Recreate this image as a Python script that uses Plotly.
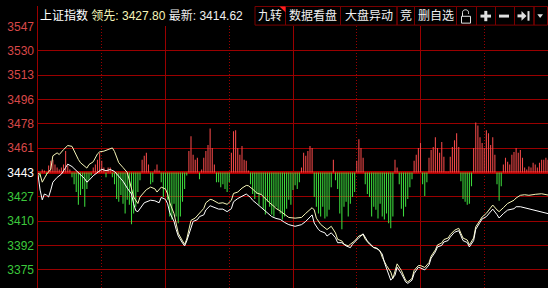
import plotly.graph_objects as go

# ---------------- data ----------------
PREV_CLOSE = 3443.8
TICK_STEP = 17.27
TICK_LABELS = ["3375", "3392", "3410", "3427", "3443", "3461", "3478", "3496", "3513", "3530", "3547"]
TICK_STEPS = [-4, -3, -2, -1, 0, 1, 2, 3, 4, 5, 6]

LEAD_LAST = "3427.80"
PRICE_LAST = "3414.62"

LEAD_T = [0, 1, 2, 4, 6, 7, 9, 10, 12, 14, 16, 17, 19, 20, 23, 24, 26, 28, 29, 31,
          33, 35, 36, 38, 40, 42, 43, 45, 47, 48, 51, 53, 55, 56, 58, 60, 61, 62, 64, 65,
          66, 68, 69, 70, 71, 72, 74, 76, 78, 79, 81, 82, 85, 87, 89, 91, 92, 94, 96, 98,
          99, 101, 103, 105, 107, 109, 111, 112, 114, 116, 118, 121, 124, 126, 129, 130, 131, 133, 135, 136,
          138, 140, 141, 143, 144, 146, 147, 149, 151, 153, 154, 156, 158, 159, 161, 162, 164, 166, 167, 169,
          171, 173, 174, 176, 177, 179, 180, 182, 184, 185, 187, 188, 190, 191, 193, 194, 196, 198, 199, 200,
          202, 203, 205, 206, 208, 209, 211, 213, 214, 216, 217, 219, 221, 224, 225, 227, 229, 231, 232, 234,
          237, 240]
LEAD_V = [3443.1, 3442.4, 3436.9, 3442.4, 3446.1, 3455.6, 3457.7, 3456.5, 3460.0, 3462.9,
          3462.3, 3458.9, 3453.0, 3450.7, 3446.9, 3449.4, 3451.4, 3457.0, 3458.4, 3458.9,
          3460.1, 3461.2, 3458.7, 3450.7, 3447.3, 3443.8, 3438.2, 3426.4, 3421.8, 3426.4,
          3431.6, 3433.4, 3432.2, 3429.9, 3433.4, 3432.0, 3428.5, 3422.3, 3414.6, 3407.7,
          3400.7, 3395.2, 3392.8, 3396.6, 3404.2, 3409.8, 3411.5, 3414.6, 3418.3, 3422.3,
          3424.7, 3424.4, 3421.9, 3422.3, 3421.2, 3424.0, 3428.9, 3429.9, 3432.7, 3434.6,
          3434.4, 3432.0, 3429.2, 3428.2, 3425.1, 3422.3, 3419.8, 3418.3, 3416.4, 3414.0,
          3411.9, 3411.4, 3411.9, 3414.8, 3418.8, 3417.2, 3411.4, 3407.0, 3404.4, 3403.3,
          3405.6, 3400.9, 3396.4, 3395.2, 3392.9, 3391.7, 3392.9, 3395.2, 3398.7, 3399.8,
          3396.4, 3392.9, 3390.5, 3390.5, 3388.2, 3383.6, 3377.8, 3373.2, 3368.6, 3379.0,
          3374.3, 3367.4, 3366.2, 3368.6, 3374.3, 3377.8, 3377.8, 3376.4, 3379.9, 3384.4,
          3388.9, 3392.4, 3393.8, 3396.2, 3397.3, 3399.7, 3402.8, 3404.2, 3400.7, 3397.3,
          3395.9, 3392.4, 3397.3, 3405.3, 3409.8, 3412.2, 3414.8, 3418.3, 3420.7, 3417.2,
          3416.0, 3418.8, 3421.8, 3424.1, 3425.7, 3427.6, 3428.0, 3427.6, 3428.0, 3428.3,
          3428.7, 3427.80]

PRICE_T = [0, 1, 2, 3, 4, 5, 6, 7, 9, 11, 13, 14, 16, 17, 20, 22, 23, 24, 26, 29,
           30, 32, 34, 36, 38, 40, 42, 44, 45, 46, 47, 48, 50, 53, 55, 57, 58, 60, 61, 62,
           64, 65, 66, 68, 69, 70, 72, 73, 75, 76, 78, 79, 81, 82, 85, 87, 89, 91, 92, 94,
           97, 98, 100, 101, 103, 104, 106, 108, 110, 112, 114, 116, 118, 121, 124, 126, 129, 130, 132, 133,
           135, 136, 138, 140, 141, 143, 145, 147, 148, 151, 153, 155, 157, 158, 160, 162, 163, 165, 166, 168,
           169, 171, 173, 174, 176, 177, 179, 180, 182, 184, 185, 187, 188, 190, 191, 193, 194, 196, 198, 199,
           200, 202, 203, 205, 206, 208, 209, 211, 213, 214, 216, 217, 219, 221, 224, 225, 227, 229, 232, 235,
           240]
PRICE_V = [3442.4, 3431.3, 3424.4, 3428.5, 3427.8, 3426.4, 3431.3, 3436.9, 3440.3, 3442.6,
           3447.3, 3449.7, 3448.0, 3446.6, 3442.8, 3439.3, 3436.9, 3438.2, 3441.5, 3445.0,
           3446.1, 3445.0, 3445.9, 3444.5, 3441.0, 3437.6, 3432.7, 3428.5, 3421.6, 3416.7,
           3416.0, 3418.1, 3422.3, 3424.1, 3423.7, 3422.3, 3426.1, 3424.7, 3421.6, 3415.3,
           3409.1, 3403.5, 3398.7, 3393.8, 3391.7, 3395.2, 3405.6, 3409.1, 3410.3, 3412.5,
           3413.7, 3417.2, 3420.2, 3419.5, 3417.8, 3417.8, 3416.0, 3418.1, 3423.0, 3425.3,
           3427.6, 3428.5, 3426.1, 3424.1, 3421.6, 3420.2, 3417.4, 3414.6, 3412.5, 3411.2,
           3410.5, 3408.4, 3406.8, 3405.6, 3406.8, 3409.1, 3413.7, 3407.9, 3403.3, 3402.1,
           3401.0, 3398.7, 3401.0, 3397.5, 3394.0, 3394.0, 3391.7, 3390.5, 3392.9, 3397.5,
           3400.3, 3395.2, 3391.7, 3390.5, 3389.4, 3385.9, 3380.1, 3372.1, 3367.4, 3370.9,
           3376.6, 3372.1, 3366.2, 3365.1, 3367.4, 3372.1, 3376.6, 3376.1, 3374.7, 3378.2,
           3383.0, 3387.5, 3391.0, 3392.1, 3394.5, 3395.5, 3398.0, 3401.4, 3402.5, 3399.0,
           3395.5, 3394.1, 3391.0, 3395.5, 3403.5, 3408.4, 3410.8, 3412.5, 3416.0, 3417.8,
           3413.9, 3411.5, 3414.6, 3417.1, 3418.1, 3419.5, 3419.5, 3418.8, 3417.2, 3416.5,
           3414.62]

# red / green strength bars, one per minute (indicator units)
BAR_VALUES = [1, -5, 3, 2, -3, 7, 12, 13, 8, 5,
              3, 5, 8, 22, 7, 3, -5, -12, -20, -33,
              -23, -17, -35, -17, -8, -3, 5, 8, 13, 20,
              12, 5, -5, 5, 5, -5, -12, -27, -30, -23,
              -32, -42, -28, -33, -53, -42, -35, -20, -8, 13,
              17, 20, 8, -12, -10, 3, 8, 2, -10, -25,
              -17, -28, -45, -48, -32, -45, -52, -45, -30, -17,
              -3, 22, 37, 18, 13, 15, -7, 3, 15, 22,
              28, 45, 25, 8, -10, -10, -15, -12, -17, -20,
              -10, 20, 42, 43, 25, 18, 27, 13, 12, 2,
              -12, -22, -27, -22, -33, -23, -37, -43, -30, -35,
              -43, -45, -35, -38, -42, -48, -45, -37, -28, -33,
              -18, -13, -17, -10, 5, 20, 17, 22, 27, 25,
              -25, -35, -42, -45, -35, -47, -45, -38, -15, 13,
              -8, -17, -42, -58, -35, -30, -45, -32, -25, -20,
              12, 34, 25, 15, -12, -22, -25, -45, -35, -38,
              -47, -32, -45, -48, -42, -52, -57, -45, 13, 5,
              -12, -37, -45, -35, -27, -15, -7, 12, 18, 25,
              30, -12, -24, -10, 15, 23, 26, 36, 25, 20,
              31, 16, 1, 1, 16, 26, 33, 40, 26, -9,
              -27, -30, -33, -32, -14, 25, 51, 48, 36, 30,
              25, 43, 40, 28, 36, 18, -12, -29, -14, 8,
              15, 11, 8, 18, 21, 25, 20, 23, 15, 5,
              3, 6, 5, 10, 8, 5, 10, 13, 13, 15,
              13]
MINUTES = list(range(len(BAR_VALUES)))

TITLE_NAME = "上证指数"
BUTTON_LABELS = ["九转", "数据看盘", "大盘异动", "竞", "删自选"]

# ---------------- styling / layout helpers ----------------
W, H = 548, 288
TOP = 20
BG = "#000000"
GRID = "#9a0000"
RED_BAR = "#f04848"
GREEN_BAR = "#3cd83c"
LEAD_COLOR = "#f6f6b8"
PRICE_COLOR = "#ffffff"
BTN_BORDER = "#7a0000"
ICON = "#e0e0e0"
FONT_NUM = "Liberation Sans, Arial, Noto Sans CJK SC"
FONT_CJK = "Liberation Sans, Noto Sans CJK SC"


def px(x):
    return x / W


def py(y):
    return 1 - y / H


ydom_top = (H - TOP) / H
px_per_pt = 24.87 / TICK_STEP
y2_range = [PREV_CLOSE - (H - 170) / px_per_pt, PREV_CLOSE + (170 - TOP) / px_per_pt]
x_range = [-0.47, 240]

tickvals = [PREV_CLOSE + k * TICK_STEP for k in TICK_STEPS]
ticktext = []
for k, lab in zip(TICK_STEPS, TICK_LABELS):
    col = "#d84848" if k > 0 else ("#ffffff" if k == 0 else "#3cc83c")
    ticktext.append(f'<span style="color:{col}">{lab}</span>')

bar_colors = [RED_BAR if v >= 0 else GREEN_BAR for v in BAR_VALUES]

fig = go.Figure()
fig.add_trace(go.Bar(
    x=MINUTES, y=BAR_VALUES, width=0.5, marker=dict(color=bar_colors, line=dict(width=0)),
    xaxis="x", yaxis="y", hoverinfo="skip", showlegend=False))
fig.add_trace(go.Scatter(
    x=LEAD_T, y=LEAD_V, mode="lines", line=dict(color=LEAD_COLOR, width=1),
    xaxis="x2", yaxis="y2", hoverinfo="skip", showlegend=False))
fig.add_trace(go.Scatter(
    x=PRICE_T, y=PRICE_V, mode="lines", line=dict(color=PRICE_COLOR, width=1),
    xaxis="x2", yaxis="y2", hoverinfo="skip", showlegend=False))

shapes = []
# left border through whole height
shapes.append(dict(type="line", xref="paper", yref="paper", x0=px(37.5), x1=px(37.5), y0=0, y1=1,
                   line=dict(color=GRID, width=1), layer="above"))

# toolbar buttons
edges = [255, 285.5, 340.5, 397, 414.5, 456.5, 476.5, 495.5, 514.5, 534, 547.5]
for a, b in zip(edges[:-1], edges[1:]):
    shapes.append(dict(type="rect", xref="paper", yref="paper", x0=px(a), x1=px(b), y0=py(19.5), y1=py(0.5),
                       line=dict(color=BTN_BORDER, width=1), fillcolor="rgba(0,0,0,0)", layer="above"))


def path(points):
    s = "M " + " L ".join(f"{px(x):.5f},{py(y):.5f}" for x, y in points) + " Z"
    return s


# red marker triangle on first button
shapes.append(dict(type="path", xref="paper", yref="paper", path=path([(279.5, 0.5), (285.5, 0.5), (285.5, 6.5)]),
                   fillcolor="#ff2020", line=dict(width=0), layer="above"))
# lock icon: body + open shackle
shapes.append(dict(type="rect", xref="paper", yref="paper", x0=px(461.5), x1=px(470.5), y0=py(17.5), y1=py(10.5),
                   line=dict(color=ICON, width=1), fillcolor="rgba(0,0,0,0)", layer="above"))
shk = (f"M {px(462.5):.5f},{py(10.5):.5f} L {px(462.5):.5f},{py(6.5):.5f} "
       f"C {px(462.5):.5f},{py(3.0):.5f} {px(468.5):.5f},{py(3.0):.5f} {px(468.5):.5f},{py(6.5):.5f} "
       f"L {px(468.5):.5f},{py(8.0):.5f}")
shapes.append(dict(type="path", xref="paper", yref="paper", path=shk, line=dict(color=ICON, width=1), layer="above"))
# plus
shapes.append(dict(type="rect", xref="paper", yref="paper", x0=px(480.5), x1=px(491), y0=py(11.8), y1=py(8.8),
                   fillcolor=ICON, line=dict(width=0), layer="above"))
shapes.append(dict(type="rect", xref="paper", yref="paper", x0=px(484.3), x1=px(487.3), y0=py(15.5), y1=py(5),
                   fillcolor=ICON, line=dict(width=0), layer="above"))
# minus
shapes.append(dict(type="rect", xref="paper", yref="paper", x0=px(499), x1=px(509), y0=py(11.8), y1=py(8.8),
                   fillcolor=ICON, line=dict(width=0), layer="above"))
# move-to-end arrow
shapes.append(dict(type="rect", xref="paper", yref="paper", x0=px(517.5), x1=px(522), y0=py(11.6), y1=py(8.6),
                   fillcolor=ICON, line=dict(width=0), layer="above"))
shapes.append(dict(type="path", xref="paper", yref="paper", path=path([(521.5, 5.2), (526.5, 10.1), (521.5, 15)]),
                   fillcolor=ICON, line=dict(width=0), layer="above"))
shapes.append(dict(type="rect", xref="paper", yref="paper", x0=px(527.5), x1=px(529.5), y0=py(15), y1=py(5.2),
                   fillcolor=ICON, line=dict(width=0), layer="above"))
# dropdown triangle
shapes.append(dict(type="path", xref="paper", yref="paper", path=path([(537.3, 8.3), (543, 8.3), (540.15, 12.3)]),
                   fillcolor=ICON, line=dict(width=0), layer="above"))

annotations = []
title_html = (f'{TITLE_NAME} <span style="color:{LEAD_COLOR}">领先: {LEAD_LAST}</span> '
              f'<span style="color:#f0f0f0">最新: {PRICE_LAST}</span>')
annotations.append(dict(xref="paper", yref="paper", x=px(38), y=py(10), xanchor="left", yanchor="middle",
                        text=title_html, showarrow=False, font=dict(family=FONT_CJK, size=12, color="#ffffff")))
for lab, a, b in zip(BUTTON_LABELS, edges[:5], edges[1:6]):
    annotations.append(dict(xref="paper", yref="paper", x=px((a + b) / 2), y=py(10), xanchor="center",
                            yanchor="middle", text=lab, showarrow=False,
                            font=dict(family=FONT_CJK, size=12, color="#f0f0f0")))

fig.update_layout(
    width=W, height=H, margin=dict(l=0, r=0, t=0, b=0),
    paper_bgcolor=BG, plot_bgcolor=BG, showlegend=False, hovermode=False,
    xaxis=dict(domain=[px(37), 1], range=x_range, tickvals=[60, 120, 180], showgrid=True,
               gridcolor=GRID, gridwidth=1, showticklabels=False, ticks="", zeroline=False, showline=False,
               fixedrange=True),
    xaxis2=dict(overlaying="x", anchor="y2", range=x_range, tickvals=[30, 90, 150, 210], showgrid=True,
                gridcolor=GRID, gridwidth=1, griddash="1px,2px", showticklabels=False, ticks="",
                zeroline=False, showline=False, fixedrange=True),
    yaxis=dict(domain=[0, ydom_top], range=[-(H - 170), 170 - TOP], showgrid=False, zeroline=True,
               zerolinecolor="#b00000", zerolinewidth=3, showticklabels=False, ticks="", showline=False,
               fixedrange=True),
    yaxis2=dict(overlaying="y", anchor="x2", side="left", range=y2_range, tickvals=tickvals,
                ticktext=ticktext, showgrid=True, gridcolor=GRID, gridwidth=1, zeroline=False,
                showline=False, ticks="", ticklabelstandoff=2,
                tickfont=dict(family=FONT_NUM, size=12, color="#ffffff"), fixedrange=True),
    shapes=shapes, annotations=annotations,
)

fig.write_html("out.html", include_plotlyjs=True, config={"displayModeBar": False, "staticPlot": True})
